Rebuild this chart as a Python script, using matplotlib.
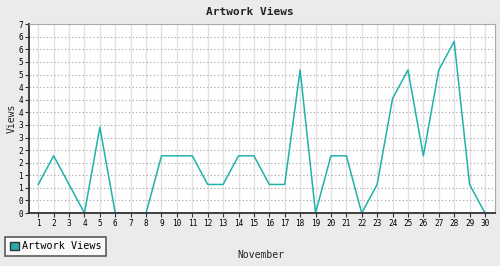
import matplotlib
matplotlib.use("Agg")
import matplotlib.pyplot as plt
from matplotlib.patches import Patch
import numpy as np

days = list(range(1, 31))
views = [1, 2, 1, 0, 3, 0, 0, 0, 2, 2, 2, 1, 1, 2, 2, 1, 1, 5, 0, 2, 2, 0, 1, 4, 5, 2, 5, 6, 1, 0]
title = "Artwork Views"
series_name = "Artwork Views"
x_title = "November"
y_title = "Views"

mono = "DejaVu Sans Mono"
line_col = "#20b2aa"

fig = plt.figure(figsize=(5, 2.66), dpi=100, facecolor="#ebebeb")
ax = fig.add_axes([0.0586, 0.199, 0.9314, 0.71])
ax.set_facecolor("white")

ax.plot(days, views, color=line_col, lw=1.1)

ymax = max(views) * 1.1
yt = np.linspace(0, ymax, 16)
ax.set_ylim(0, ymax)
ax.set_xlim(0.42, 30.65)
ax.set_yticks(yt)
ax.set_yticklabels([str(int(round(v))) for v in yt], family=mono, fontsize=5.6)
ax.set_xticks(days)
ax.set_xticklabels([str(d) for d in days], family=mono, fontsize=5.6)

# gridlines
for d in days:
    ax.axvline(d, color="#e2e2e2", lw=1, zorder=0)
for v in yt[1:-1]:
    ax.axhline(v, color="#a0a0a0", lw=0.8, ls=(0, (1, 2.2)), zorder=0)

for side in ("top", "right"):
    ax.spines[side].set_color("#aaaaaa")
for side in ("left", "bottom"):
    ax.spines[side].set_color("#333333")
    ax.spines[side].set_linewidth(1.3)
ax.tick_params(length=3, width=0.8, color="#333333", pad=1.5)

fig.text(0.5, 1 - 12 / 266, title, ha="center", va="center",
         family=mono, fontsize=8, fontweight="bold", color="#222222")
fig.text(261 / 500, 1 - 255 / 266, x_title, ha="center", va="center",
         family=mono, fontsize=7, color="#222222")
fig.text(12 / 500, 1 - 118 / 266, y_title, ha="center", va="center",
         rotation=90, family=mono, fontsize=7, color="#222222")

handle = Patch(facecolor="#2aabab", edgecolor="#333333", lw=1)
leg = fig.legend([handle], [series_name], loc="lower left",
                 bbox_to_anchor=(5 / 500, 1 - 256 / 266),
                 prop={"family": mono, "size": 7.3}, frameon=True,
                 fancybox=False, borderpad=0.45, handlelength=0.9,
                 handleheight=0.9, handletextpad=0.35, borderaxespad=0)
leg.get_frame().set_edgecolor("#333333")
leg.get_frame().set_linewidth(1.2)

fig.savefig("out.png", dpi=100, facecolor=fig.get_facecolor())
